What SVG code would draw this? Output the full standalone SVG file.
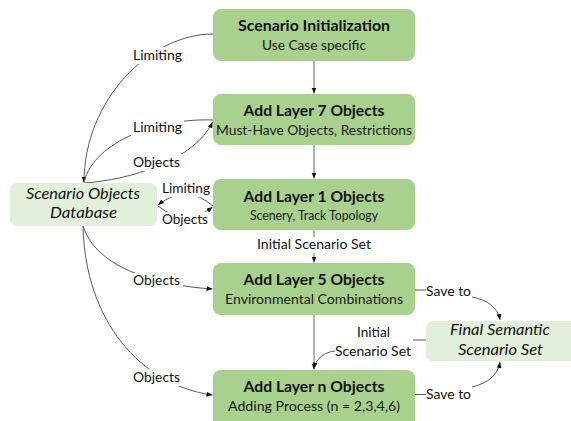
<svg xmlns="http://www.w3.org/2000/svg" width="571" height="421" viewBox="0 0 571 421">
<defs>
<marker id="ah" markerUnits="userSpaceOnUse" markerWidth="7" markerHeight="6" refX="6" refY="2.5" orient="auto">
<path d="M0,0 L6,2.5 L0,5 z" fill="#111"/>
</marker>
<style>
.step{fill:#a9d18e;}
.store{fill:#e2efda;}
.t{font-family:Lato,"Liberation Sans",sans-serif;font-weight:bold;font-size:16px;fill:#111;text-anchor:middle;}
.s{font-family:Lato,"Liberation Sans",sans-serif;font-size:14px;fill:#1a1a1a;text-anchor:middle;}
.it{font-family:Lato,"Liberation Sans",sans-serif;font-style:italic;font-size:16px;fill:#111;text-anchor:middle;}
.lb{font-family:Lato,"Liberation Sans",sans-serif;font-size:14px;fill:#111;text-anchor:middle;}
.v{fill:none;stroke:#8c8c8c;stroke-width:1.3;marker-end:url(#ah);}
.c{fill:none;stroke:#595959;stroke-width:1;}
.a{marker-end:url(#ah);}
.bg{fill:#fff;}
</style>
</defs>
<rect width="571" height="421" fill="#fff"/>

<g id="connectors">
<path class="v" d="M314,61 V93.5"/>
<path class="v" d="M314,145 V178.5"/>
<path class="v" d="M314,230 V262.5"/>
<path class="v" d="M314,315 V369.5"/>
<path class="c a" d="M213,34 C150,34 84,100 84,182.5"/>
<path class="c" d="M213,120 C160,118 95,140 84,182"/>
<path class="c a" d="M84,183 C130,180 195,160 212.5,122"/>
<path class="c a" d="M213,206 Q186,183 158,205"/>
<path class="c a" d="M158,206 Q186,228 212.5,207"/>
<path class="c a" d="M83,226 C95,265 150,285 212.5,289"/>
<path class="c a" d="M83,226 C85,320 140,385 212.5,395"/>
<path class="c" d="M415,290 H426"/>
<path class="c a" d="M472,297 C488,300 498,308 500,320"/>
<path class="c" d="M415,394.5 H426"/>
<path class="c a" d="M472,387 C488,383 498,375 500,362"/>
<path class="c" d="M413,340 H426"/>
<path class="c a" d="M335,351 C325,352 316,358 314,368.5"/>
<rect class="bg" x="131" y="47" width="53" height="17"/>
<rect class="bg" x="131" y="119" width="53" height="17"/>
<rect class="bg" x="131" y="154" width="52" height="17"/>
<rect class="bg" x="160" y="181" width="52" height="16"/>
<rect class="bg" x="160" y="212" width="51" height="16"/>
<rect class="bg" x="254" y="237" width="120" height="16"/>
<rect class="bg" x="131" y="273" width="52" height="16"/>
<rect class="bg" x="131" y="369" width="52" height="17"/>
<text class="lb" x="157.5" y="60" textLength="49" lengthAdjust="spacingAndGlyphs">Limiting</text>
<text class="lb" x="157.5" y="132" textLength="49" lengthAdjust="spacingAndGlyphs">Limiting</text>
<text class="lb" x="156.5" y="166.5" textLength="47" lengthAdjust="spacingAndGlyphs">Objects</text>
<text class="lb" x="186" y="193" textLength="48" lengthAdjust="spacingAndGlyphs">Limiting</text>
<text class="lb" x="185" y="224" textLength="46" lengthAdjust="spacingAndGlyphs">Objects</text>
<text class="lb" x="314" y="249" textLength="114" lengthAdjust="spacingAndGlyphs">Initial Scenario Set</text>
<text class="lb" x="156.5" y="285" textLength="47" lengthAdjust="spacingAndGlyphs">Objects</text>
<text class="lb" x="156.5" y="382" textLength="47" lengthAdjust="spacingAndGlyphs">Objects</text>
<text class="lb" x="448.5" y="296" textLength="45" lengthAdjust="spacingAndGlyphs">Save to</text>
<text class="lb" x="448.5" y="399" textLength="45" lengthAdjust="spacingAndGlyphs">Save to</text>
<text class="lb" x="373.5" y="337" textLength="33" lengthAdjust="spacingAndGlyphs">Initial</text>
<text class="lb" x="373" y="356" textLength="76" lengthAdjust="spacingAndGlyphs">Scenario Set</text>
</g>

<g id="scenario-initialization">
<rect class="step" x="213" y="9" width="202" height="52" rx="8"/>
<text class="t" x="314" y="31" textLength="152" lengthAdjust="spacingAndGlyphs">Scenario Initialization</text>
<text class="s" x="314" y="50" textLength="104" lengthAdjust="spacingAndGlyphs">Use Case specific</text>
</g>

<g id="layer7">
<rect class="step" x="213" y="94" width="202" height="51" rx="8"/>
<text class="t" x="314" y="116" textLength="141" lengthAdjust="spacingAndGlyphs">Add Layer 7 Objects</text>
<text class="s" x="314" y="135" textLength="196" lengthAdjust="spacingAndGlyphs">Must-Have Objects, Restrictions</text>
</g>

<g id="layer1">
<rect class="step" x="213" y="179" width="202" height="51" rx="8"/>
<text class="t" x="314" y="201.5" textLength="141" lengthAdjust="spacingAndGlyphs">Add Layer 1 Objects</text>
<text class="s" x="314" y="219.5" font-size="12.5" textLength="128" lengthAdjust="spacingAndGlyphs">Scenery, Track Topology</text>
</g>

<g id="layer5">
<rect class="step" x="213" y="263" width="202" height="52" rx="8"/>
<text class="t" x="314" y="285" textLength="141" lengthAdjust="spacingAndGlyphs">Add Layer 5 Objects</text>
<text class="s" x="314" y="304" textLength="178" lengthAdjust="spacingAndGlyphs">Environmental Combinations</text>
</g>

<g id="layern">
<rect class="step" x="213" y="370" width="202" height="60" rx="8"/>
<text class="t" x="314" y="392" textLength="141" lengthAdjust="spacingAndGlyphs">Add Layer n Objects</text>
<text class="s" x="314" y="411" textLength="172" lengthAdjust="spacingAndGlyphs">Adding Process (n = 2,3,4,6)</text>
</g>

<g id="database">
<rect class="store" x="10" y="183" width="147" height="43" rx="7"/>
<text class="it" x="83" y="199" textLength="114" lengthAdjust="spacingAndGlyphs">Scenario Objects</text>
<text class="it" x="83.5" y="218" textLength="67" lengthAdjust="spacingAndGlyphs">Database</text>
</g>

<g id="final-set">
<rect class="store" x="426" y="321" width="155" height="40" rx="7"/>
<text class="it" x="500" y="335" textLength="100" lengthAdjust="spacingAndGlyphs">Final Semantic</text>
<text class="it" x="500.5" y="355" textLength="85" lengthAdjust="spacingAndGlyphs">Scenario Set</text>
</g>
</svg>
